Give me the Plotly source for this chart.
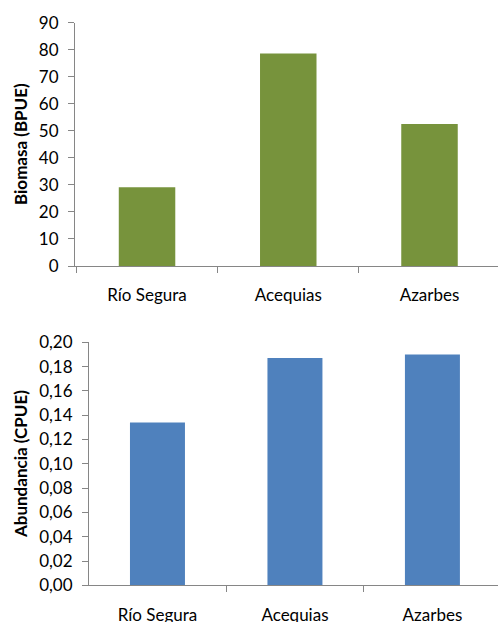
import plotly.graph_objects as go

categories = ["Río Segura", "Acequias", "Azarbes"]
biomasa = [29.1, 78.6, 52.5]
abundancia = [0.134, 0.187, 0.190]
biomasa_ticks = list(range(0, 91, 10))
abundancia_ticks = [round(i * 0.02, 2) for i in range(11)]

W, H = 498, 622
FONT = "Lato"
GREY = "#868686"

fig = go.Figure()
fig.add_trace(go.Bar(x=categories, y=biomasa, marker=dict(color="#77933C", line=dict(width=0)),
                     width=0.4, xaxis="x", yaxis="y", showlegend=False, hoverinfo="skip"))
fig.add_trace(go.Bar(x=categories, y=abundancia, marker=dict(color="#4F81BD", line=dict(width=0)),
                     width=0.4, xaxis="x2", yaxis="y2", showlegend=False, hoverinfo="skip"))

def px_x(v):
    return v / W

def px_y(v):
    return (H - v) / H

xcommon = dict(showline=True, linecolor=GREY, linewidth=1, ticks="outside", tickson="boundaries",
               ticklen=6, tickcolor=GREY, tickfont=dict(family=FONT, size=17, color="black"),
               ticklabelstandoff=14, showgrid=False, zeroline=False,
               fixedrange=True, automargin=False)
ycommon = dict(showline=True, linecolor=GREY, linewidth=1, ticks="outside", ticklen=6,
               tickcolor=GREY, tickfont=dict(family=FONT, size=17, color="black"),
               ticklabelstandoff=6, showgrid=False, zeroline=False, automargin=False,
               fixedrange=True)

fig.update_layout(
    width=W, height=H,
    margin=dict(l=0, r=0, t=0, b=0, autoexpand=False),
    paper_bgcolor="white", plot_bgcolor="white",
    separators=",.",
    xaxis=dict(domain=[px_x(75), 1.0], anchor="y", range=[-0.51, 2.485], **xcommon),
    yaxis=dict(domain=[px_y(266), px_y(22.7)], anchor="x", range=[0, 90],
               tickvals=biomasa_ticks, **ycommon),
    xaxis2=dict(domain=[px_x(89), 1.0], anchor="y2", range=[-0.498, 2.477], **xcommon),
    yaxis2=dict(domain=[px_y(585.3), px_y(342.3)], anchor="x2", range=[0, 0.2],
                tickvals=abundancia_ticks, tickformat=".2f", **ycommon),
    annotations=[
        dict(text="<b>Biomasa (BPUE)</b>", textangle=-90, x=px_x(20), y=px_y(144),
             xref="paper", yref="paper", showarrow=False, xanchor="center", yanchor="middle",
             font=dict(family=FONT, size=17, color="black")),
        dict(text="<b>Abundancia (CPUE)</b>", textangle=-90, x=px_x(20), y=px_y(464),
             xref="paper", yref="paper", showarrow=False, xanchor="center", yanchor="middle",
             font=dict(family=FONT, size=17, color="black")),
    ],
)

fig.write_html("out.html", config={"displayModeBar": False},
               post_script="document.body.style.margin='0';document.body.style.overflow='hidden';")
